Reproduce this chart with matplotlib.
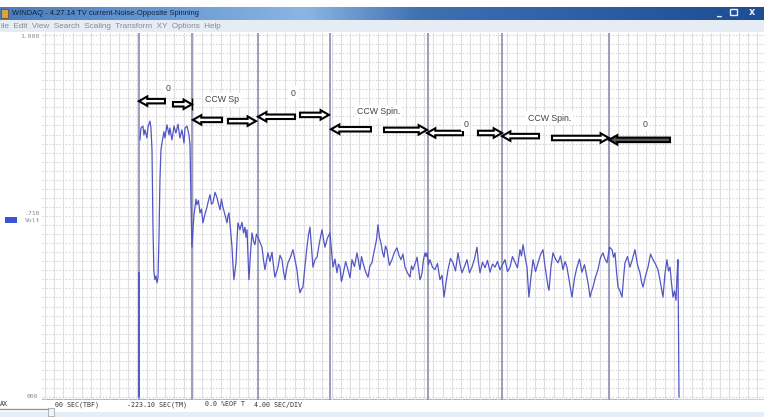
import numpy as np
import matplotlib.pyplot as plt
import matplotlib.patches as mpatches
from matplotlib.colors import LinearSegmentedColormap

W, H = 764, 417

# recorded channel 1 (seconds, volts)
trace_t = [10.27, 10.38, 10.59, 10.70, 10.81, 11.03, 11.14, 11.35, 11.46, 11.57,
           11.68, 11.78, 11.89, 12.00, 12.11, 12.22, 12.32, 12.43, 12.54, 12.65,
           12.86, 12.97, 13.19, 13.41, 13.51, 13.73, 13.95, 14.16, 14.38, 14.59,
           14.81, 15.03, 15.14, 15.35, 15.57, 15.68, 15.78, 15.89,
           16.00, 16.11, 16.22, 16.32, 16.43, 16.59, 16.76, 16.92, 17.08, 17.30,
           17.51, 17.68, 17.84, 18.00, 18.16, 18.38, 18.59, 18.76, 18.92, 19.08,
           19.24, 19.46, 19.68, 19.78, 19.89, 20.05, 20.22, 20.32, 20.43, 20.54,
           20.65, 20.76, 20.86, 21.08, 21.30, 21.46, 21.62, 21.73, 21.84, 21.95,
           22.05, 22.22, 22.38, 22.54, 22.70, 22.86, 23.03, 23.24, 23.46, 23.62,
           23.78, 23.95, 24.11, 24.32, 24.54, 24.70, 24.86, 25.03, 25.19, 25.41,
           25.62, 25.78, 25.95, 26.11, 26.27, 26.54, 26.81, 27.03, 27.24, 27.41,
           27.57, 27.73, 27.89, 28.11, 28.32, 28.49, 28.65, 28.81, 28.97, 29.19,
           29.41, 29.68, 29.95, 30.11, 30.27, 30.54,
           30.81, 30.97, 31.14, 31.35, 31.57, 31.73, 31.89, 32.05, 32.22, 32.50,
           32.76, 32.98, 33.19, 33.46, 33.73, 33.89, 34.05, 34.22, 34.38, 34.65,
           34.92, 35.13, 35.35, 35.51, 35.68, 35.84, 36.00, 36.16, 36.32, 36.49,
           36.65, 36.81, 36.97, 37.24, 37.51, 37.78, 38.05, 38.27, 38.49, 38.70,
           38.92, 39.19, 39.46, 39.62, 39.78, 40.00, 40.22, 40.38, 40.54, 40.65,
           40.76, 40.92, 41.08, 41.19, 41.30, 41.46, 41.62, 41.89, 42.16, 42.43,
           42.70, 42.92, 43.14, 43.35, 43.57, 43.84, 44.11, 44.38, 44.65, 44.86,
           45.08, 45.35, 45.62, 45.89, 46.16, 46.43, 46.70, 46.86, 47.03, 47.30,
           47.57, 47.84, 48.11, 48.38, 48.65, 48.92, 49.19, 49.46, 49.73, 50.00,
           50.27, 50.54, 50.81, 51.08, 51.35, 51.51, 51.68, 51.89, 52.11, 52.22,
           52.32, 52.54, 52.76, 53.03, 53.30, 53.57, 53.84, 54.05, 54.27, 54.38,
           54.49, 54.70, 54.92, 55.19, 55.46, 55.73, 56.00, 56.22, 56.43, 56.70,
           56.97, 57.24, 57.51, 57.78, 58.05, 58.32, 58.59, 58.76, 58.92, 59.08,
           59.24, 59.51, 59.78, 60.05, 60.32, 60.54, 60.76, 61.03, 61.30, 61.46,
           61.62, 61.78, 61.95, 62.16, 62.38, 62.54, 62.70, 62.97, 63.24, 63.51,
           63.78, 64.05, 64.32, 64.49, 64.65, 64.92, 65.19, 65.46, 65.73, 66.00,
           66.27, 66.54, 66.81, 67.03, 67.24, 67.41, 67.57, 67.73, 67.89, 68.05,
           68.22, 68.32, 68.43, 68.54]
trace_v = [0.832, 0.851, 0.854, 0.840, 0.848, 0.835, 0.853, 0.862, 0.851, 0.816,
           0.688, 0.620, 0.608, 0.614, 0.603, 0.611, 0.672, 0.768, 0.816, 0.827,
           0.845, 0.835, 0.856, 0.840, 0.851, 0.832, 0.854, 0.843, 0.857, 0.835,
           0.848, 0.827, 0.851, 0.854, 0.840, 0.824, 0.736, 0.660,
           0.688, 0.712, 0.724, 0.737, 0.728, 0.735, 0.715, 0.721, 0.699, 0.713,
           0.724, 0.735, 0.744, 0.729, 0.731, 0.748, 0.740, 0.729, 0.720, 0.737,
           0.724, 0.712, 0.699, 0.710, 0.715, 0.690, 0.660, 0.632, 0.608, 0.621,
           0.635, 0.671, 0.699, 0.688, 0.700, 0.683, 0.692, 0.676, 0.688, 0.645,
           0.608, 0.650, 0.683, 0.670, 0.664, 0.681, 0.676, 0.668, 0.660, 0.640,
           0.624, 0.639, 0.651, 0.637, 0.652, 0.631, 0.612, 0.620, 0.628, 0.647,
           0.640, 0.622, 0.608, 0.624, 0.635, 0.644, 0.656, 0.640, 0.624, 0.600,
           0.587, 0.593, 0.596, 0.630, 0.660, 0.680, 0.692, 0.660, 0.628, 0.640,
           0.644, 0.668, 0.688, 0.673, 0.660, 0.675,
           0.683, 0.655, 0.628, 0.641, 0.619, 0.633, 0.628, 0.605, 0.616, 0.637,
           0.624, 0.611, 0.640, 0.629, 0.651, 0.638, 0.624, 0.645, 0.635, 0.621,
           0.612, 0.630, 0.635, 0.648, 0.660, 0.672, 0.696, 0.676, 0.667, 0.652,
           0.644, 0.662, 0.656, 0.631, 0.640, 0.652, 0.659, 0.647, 0.640, 0.649,
           0.628, 0.619, 0.612, 0.630, 0.624, 0.633, 0.644, 0.626, 0.608, 0.612,
           0.619, 0.640, 0.651, 0.645, 0.651, 0.632, 0.640, 0.628, 0.624, 0.634,
           0.608, 0.615, 0.580, 0.603, 0.624, 0.642, 0.635, 0.622, 0.651, 0.633,
           0.619, 0.629, 0.640, 0.619, 0.628, 0.641, 0.660, 0.636, 0.619, 0.636,
           0.627, 0.639, 0.620, 0.633, 0.628, 0.637, 0.624, 0.632, 0.640, 0.621,
           0.628, 0.645, 0.636, 0.627, 0.656, 0.646, 0.664, 0.645, 0.628, 0.601,
           0.580, 0.612, 0.640, 0.621, 0.635, 0.648, 0.656, 0.630, 0.608, 0.597,
           0.591, 0.628, 0.651, 0.641, 0.635, 0.646, 0.624, 0.637, 0.628, 0.604,
           0.580, 0.610, 0.628, 0.641, 0.620, 0.632, 0.612, 0.598, 0.580, 0.589,
           0.596, 0.612, 0.624, 0.643, 0.651, 0.641, 0.635, 0.660, 0.656, 0.644,
           0.651, 0.622, 0.596, 0.590, 0.580, 0.610, 0.635, 0.645, 0.628, 0.641,
           0.656, 0.632, 0.619, 0.605, 0.596, 0.614, 0.628, 0.649, 0.640, 0.633,
           0.624, 0.603, 0.580, 0.618, 0.640, 0.622, 0.628, 0.603, 0.580, 0.590,
           0.575, 0.612, 0.640, 0.420]
start_t = 10.16
start_v = 0.620

# event marks
event_t = [10.16, 15.89, 23.03, 30.81, 41.41, 49.41, 60.97]

# hand-drawn notes on the screenshot
arrow_tail = [12.97, 13.84, 19.14, 19.78, 27.03, 27.57, 35.24, 36.65, 45.19, 46.81, 53.41, 54.81, 67.57]
arrow_head = [10.16, 15.89, 16.00, 22.81, 23.03, 30.70, 30.92, 41.30, 41.30, 49.41, 49.41, 60.97, 60.97]
arrow_v = [0.894, 0.889, 0.864, 0.862, 0.869, 0.872, 0.849, 0.848, 0.843, 0.843, 0.838, 0.835, 0.832]
arrow_fill = ['white'] * 12 + ['#555555']
note_text = ["0", "CCW Sp", "0", "CCW Spin.", "0", "CCW Spin.", "0"]
note_t = [13.30, 17.30, 26.81, 33.73, 45.51, 52.22, 64.86]
note_v = [0.915, 0.896, 0.907, 0.877, 0.857, 0.867, 0.857]

title = "WINDAQ - 4.27.14 TV current-Noise-Opposite Spinning"
menu = "ile  Edit  View  Search  Scaling  Transform  XY  Options  Help"


def fx(px):
    return px / W


def fy(py):
    return 1 - py / H


fig = plt.figure(figsize=(W / 100, H / 100), dpi=100, facecolor='white')

# title bar
tb = fig.add_axes([0, fy(20), 1, (20 - 7) / H])
cmap = LinearSegmentedColormap.from_list(
    'tb', [(0, '#4a7cbc'), (0.25, '#6f9fd6'), (0.4, '#8cb5e2'), (0.55, '#3f70b0'), (1, '#1d4d92')])
tb.imshow(np.linspace(0, 1, 256).reshape(1, -1), aspect='auto', cmap=cmap, extent=[0, 1, 0, 1])
tb.set_axis_off()
fig.patches.append(mpatches.Rectangle((fx(1), fy(18)), fx(7), 9 / H, transform=fig.transFigure,
                                      fc='#d9a441', ec='#5a4a2a', lw=0.5))
fig.text(fx(12), fy(13.5), title, fontsize=5.4, family='Liberation Sans', color='#10203a', va='center')
fig.text(fx(719), fy(12), '_', fontsize=7, color='#e8eef8', ha='center', va='center', weight='bold')
fig.patches.append(mpatches.Rectangle((fx(730), fy(15)), fx(7), 6 / H, transform=fig.transFigure,
                                      fc='none', ec='#e8eef8', lw=1))
fig.text(fx(752), fy(12), 'x', fontsize=7, color='#e8eef8', ha='center', va='center', weight='bold')

# menu bar
fig.patches.append(mpatches.Rectangle((0, fy(32)), 1, 12 / H, transform=fig.transFigure,
                                      fc='#e6ecf4', ec='none'))
fig.text(fx(1), fy(26.5), menu, fontsize=5.9, family='Liberation Sans', color='#8a8a8a', va='center')

# plot area
ax = fig.add_axes([fx(42), fy(400), fx(722), (400 - 33) / H])
ax.set_xlim(-0.32, 77.73)
ax.set_ylim(0.4152, 1.0032)
ax.set_xticks(np.arange(0, 78, 1.0))
ax.set_yticks(np.arange(0.42, 1.001, 0.0145))
ax.grid(True, axis='x', color='#e0dde3', lw=0.8)
ax.grid(True, axis='y', color='#d6d6da', lw=0.8, ls=(0, (1.5, 1.5)))
ax.tick_params(length=0, labelbottom=False, labelleft=False)
for s in ax.spines.values():
    s.set_visible(False)

for t in event_t:
    ax.axvline(t, color='#9497b8', lw=1.3, zorder=2)

ax.vlines(start_t, 0.42, start_v, color='#4a4fc0', lw=1.2, zorder=3)
ax.plot(trace_t, trace_v, color='#5256c4', lw=0.9, zorder=3)

# bottom border (scroll position)
ax.axhline(0.4152, xmax=(68.54 + 0.32) / 78.05, color='#e8a0a8', lw=1.5, zorder=1)
ax.axhline(0.4152, xmin=(68.54 + 0.32) / 78.05, color='#b8e0b0', lw=1.5, zorder=1)

for tail, head, v, fc in zip(arrow_tail, arrow_head, arrow_v, arrow_fill):
    ax.add_patch(mpatches.FancyArrow(tail, v, head - tail, 0, width=0.0072, head_width=0.0150,
                                     head_length=0.9, length_includes_head=True,
                                     fc=fc, ec='black', lw=1.5, zorder=5))
ax.vlines(15.89, 0.880, 0.899, color='black', lw=1, zorder=6)
ax.vlines(17.19, 0.888, 0.907, color='black', lw=0.9, zorder=6)

for txt, t, v in zip(note_text, note_t, note_v):
    ax.text(t, v, txt, fontsize=6.3, family='Liberation Sans', color='#444444',
            ha='left' if len(txt) > 1 else 'center', va='center', zorder=6,
            bbox=dict(fc='white', ec='none', pad=1.5))

# channel scale labels
mono = 'DejaVu Sans Mono'
fig.text(fx(40), fy(36), '1.000', fontsize=4.6, family=mono, color='#888888', ha='right', va='center')
fig.text(fx(40), fy(213), '.710', fontsize=4.6, family=mono, color='#888888', ha='right', va='center')
fig.text(fx(40), fy(220), 'Volt', fontsize=4.6, family=mono, color='#888888', ha='right', va='center')
fig.text(fx(38), fy(397), '000', fontsize=4.6, family=mono, color='#888888', ha='right', va='center')
fig.patches.append(mpatches.Rectangle((fx(5), fy(223)), fx(12), 6 / H, transform=fig.transFigure,
                                      fc='#3b55d0', ec='none'))

# status line
status = [(0, 'AX'), (55, '00 SEC(TBF)'), (127, '-223.10 SEC(TM)'), (205, '0.0 %EOF T'), (254, '4.00 SEC/DIV')]
for px, s in status:
    fig.text(fx(px), fy(404.5), s, fontsize=4.8, family=mono, color='#333333', va='center')
fig.patches.append(mpatches.Rectangle((0, 0), 1, 5 / H, transform=fig.transFigure,
                                      fc='#e4eef9', ec='none'))
fig.lines.append(plt.Line2D([0, fx(48)], [fy(409), fy(409)], transform=fig.transFigure,
                            color='#999999', lw=1))
fig.patches.append(mpatches.Rectangle((fx(48), fy(416)), fx(6), 8 / H, transform=fig.transFigure,
                                      fc='#f4f4f4', ec='#aaaaaa', lw=0.6))

fig.savefig('out.png', dpi=100)
